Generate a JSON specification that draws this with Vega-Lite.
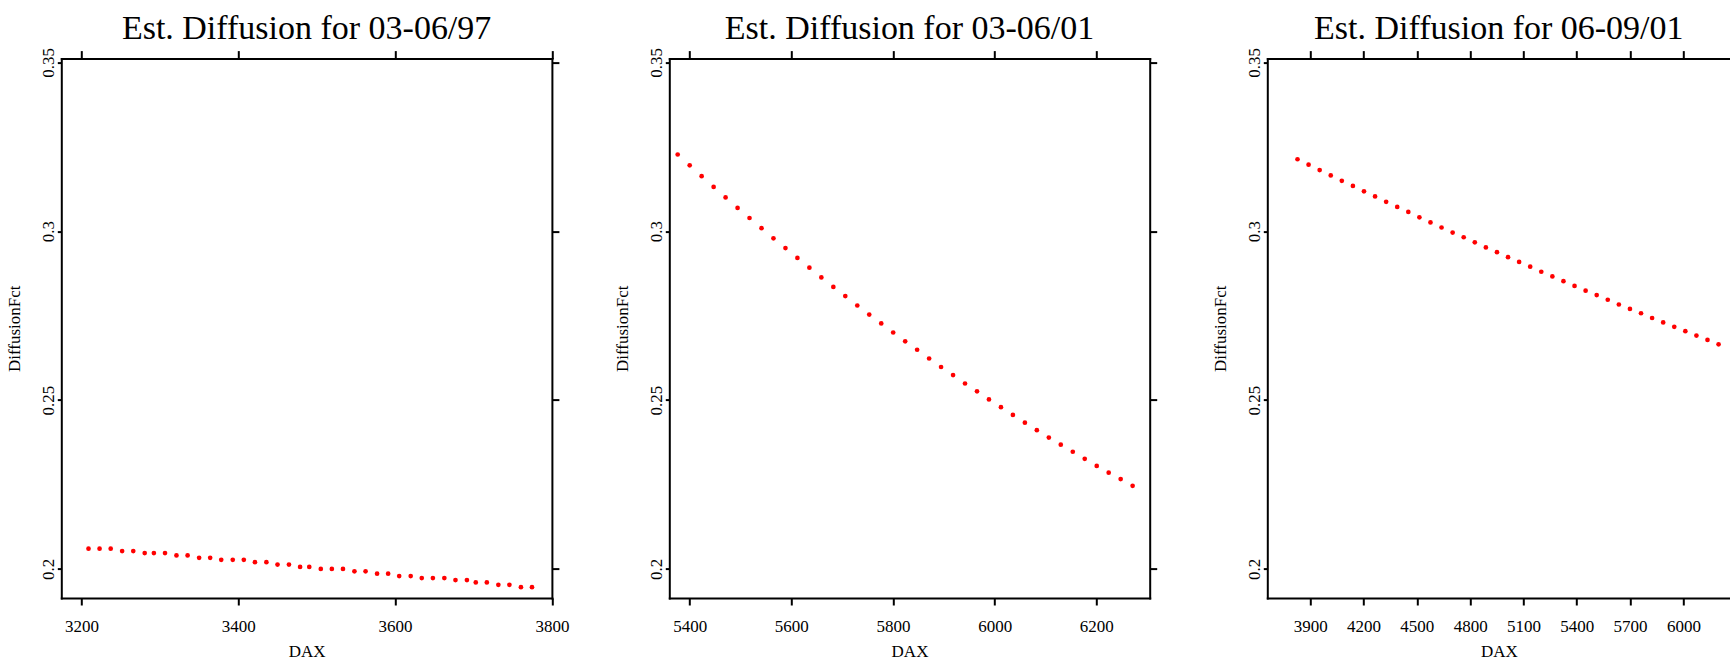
{
  "$schema": "https://vega.github.io/schema/vega-lite/v6.json",
  "background": "white",
  "padding": {"left": 5.3, "top": 11.6, "right": 0, "bottom": 0},
  "autosize": {"type": "pad"},
  "spacing": 117,
  "bounds": "flush",
  "config": {
    "font": "Liberation Serif",
    "view": {"stroke": null},
    "title": {"fontSize": 34, "fontWeight": "normal", "font": "Liberation Serif", "color": "black", "baseline": "alphabetic", "offset": 1, "anchor": "middle"},
    "axis": {"grid": false, "domainColor": "black", "domainWidth": 2, "domainCap": "square", "tickColor": "black", "tickWidth": 2, "labelColor": "black", "titleColor": "black", "labelFont": "Liberation Serif", "titleFont": "Liberation Serif", "labelFontSize": 17, "titleFontSize": 17, "titleFontWeight": "normal", "labelFlush": false, "labelOverlap": false}
  },
  "datasets": {
    "p1": [
      {"DAX": 3208.9, "DiffusionFct": 0.2060}, {"DAX": 3223.0, "DiffusionFct": 0.2060}, {"DAX": 3237.2, "DiffusionFct": 0.2060},
      {"DAX": 3251.8, "DiffusionFct": 0.2053}, {"DAX": 3266.0, "DiffusionFct": 0.2053},
      {"DAX": 3280.6, "DiffusionFct": 0.2047}, {"DAX": 3292.3, "DiffusionFct": 0.2047}, {"DAX": 3306.5, "DiffusionFct": 0.2047},
      {"DAX": 3321.1, "DiffusionFct": 0.2040}, {"DAX": 3335.3, "DiffusionFct": 0.2040},
      {"DAX": 3350.0, "DiffusionFct": 0.2033}, {"DAX": 3364.1, "DiffusionFct": 0.2033},
      {"DAX": 3378.2, "DiffusionFct": 0.2027}, {"DAX": 3392.9, "DiffusionFct": 0.2027}, {"DAX": 3407.0, "DiffusionFct": 0.2027},
      {"DAX": 3421.2, "DiffusionFct": 0.2020}, {"DAX": 3435.8, "DiffusionFct": 0.2020},
      {"DAX": 3450.0, "DiffusionFct": 0.2013}, {"DAX": 3464.6, "DiffusionFct": 0.2013},
      {"DAX": 3478.8, "DiffusionFct": 0.2006}, {"DAX": 3490.5, "DiffusionFct": 0.2006},
      {"DAX": 3505.2, "DiffusionFct": 0.2000}, {"DAX": 3519.3, "DiffusionFct": 0.2000}, {"DAX": 3533.5, "DiffusionFct": 0.2000},
      {"DAX": 3548.1, "DiffusionFct": 0.1993}, {"DAX": 3562.3, "DiffusionFct": 0.1993},
      {"DAX": 3577.0, "DiffusionFct": 0.1986}, {"DAX": 3591.1, "DiffusionFct": 0.1986},
      {"DAX": 3605.2, "DiffusionFct": 0.1979}, {"DAX": 3619.9, "DiffusionFct": 0.1979},
      {"DAX": 3634.0, "DiffusionFct": 0.1973}, {"DAX": 3648.2, "DiffusionFct": 0.1973}, {"DAX": 3662.8, "DiffusionFct": 0.1973},
      {"DAX": 3677.0, "DiffusionFct": 0.1967}, {"DAX": 3691.6, "DiffusionFct": 0.1967},
      {"DAX": 3702.9, "DiffusionFct": 0.1960}, {"DAX": 3717.0, "DiffusionFct": 0.1960},
      {"DAX": 3731.7, "DiffusionFct": 0.1953}, {"DAX": 3745.8, "DiffusionFct": 0.1953},
      {"DAX": 3760.5, "DiffusionFct": 0.1946}, {"DAX": 3774.6, "DiffusionFct": 0.1946}
    ],
    "p2": [
      {"DAX": 5376.5, "DiffusionFct": 0.3227}, {"DAX": 5400.1, "DiffusionFct": 0.3195}, {"DAX": 5423.6, "DiffusionFct": 0.3163},
      {"DAX": 5447.2, "DiffusionFct": 0.3131}, {"DAX": 5470.7, "DiffusionFct": 0.3100}, {"DAX": 5494.3, "DiffusionFct": 0.3069},
      {"DAX": 5517.8, "DiffusionFct": 0.3039}, {"DAX": 5541.4, "DiffusionFct": 0.3009}, {"DAX": 5564.9, "DiffusionFct": 0.2979},
      {"DAX": 5588.5, "DiffusionFct": 0.2950}, {"DAX": 5612.0, "DiffusionFct": 0.2921}, {"DAX": 5635.6, "DiffusionFct": 0.2892},
      {"DAX": 5659.1, "DiffusionFct": 0.2863}, {"DAX": 5682.7, "DiffusionFct": 0.2835}, {"DAX": 5706.2, "DiffusionFct": 0.2808},
      {"DAX": 5729.8, "DiffusionFct": 0.2780}, {"DAX": 5753.3, "DiffusionFct": 0.2753}, {"DAX": 5776.9, "DiffusionFct": 0.2727},
      {"DAX": 5800.4, "DiffusionFct": 0.2700}, {"DAX": 5824.0, "DiffusionFct": 0.2674}, {"DAX": 5847.5, "DiffusionFct": 0.2649},
      {"DAX": 5871.1, "DiffusionFct": 0.2623}, {"DAX": 5894.6, "DiffusionFct": 0.2598}, {"DAX": 5918.2, "DiffusionFct": 0.2574},
      {"DAX": 5941.7, "DiffusionFct": 0.2549}, {"DAX": 5965.3, "DiffusionFct": 0.2526}, {"DAX": 5988.8, "DiffusionFct": 0.2502},
      {"DAX": 6012.4, "DiffusionFct": 0.2479}, {"DAX": 6035.9, "DiffusionFct": 0.2456}, {"DAX": 6059.5, "DiffusionFct": 0.2433},
      {"DAX": 6083.0, "DiffusionFct": 0.2411}, {"DAX": 6106.6, "DiffusionFct": 0.2389}, {"DAX": 6130.1, "DiffusionFct": 0.2368},
      {"DAX": 6153.7, "DiffusionFct": 0.2347}, {"DAX": 6177.2, "DiffusionFct": 0.2326}, {"DAX": 6200.8, "DiffusionFct": 0.2305},
      {"DAX": 6224.3, "DiffusionFct": 0.2285}, {"DAX": 6247.9, "DiffusionFct": 0.2266}, {"DAX": 6271.4, "DiffusionFct": 0.2246}
    ],
    "p3": [
      {"DAX": 3828.5, "DiffusionFct": 0.3213}, {"DAX": 3890.9, "DiffusionFct": 0.3197}, {"DAX": 3953.2, "DiffusionFct": 0.3181},
      {"DAX": 4015.6, "DiffusionFct": 0.3165}, {"DAX": 4077.9, "DiffusionFct": 0.3149}, {"DAX": 4140.3, "DiffusionFct": 0.3134},
      {"DAX": 4202.6, "DiffusionFct": 0.3118}, {"DAX": 4265.0, "DiffusionFct": 0.3103}, {"DAX": 4327.3, "DiffusionFct": 0.3087},
      {"DAX": 4389.7, "DiffusionFct": 0.3072}, {"DAX": 4452.1, "DiffusionFct": 0.3057}, {"DAX": 4514.4, "DiffusionFct": 0.3041},
      {"DAX": 4576.8, "DiffusionFct": 0.3026}, {"DAX": 4639.1, "DiffusionFct": 0.3011}, {"DAX": 4701.5, "DiffusionFct": 0.2996},
      {"DAX": 4763.8, "DiffusionFct": 0.2982}, {"DAX": 4826.2, "DiffusionFct": 0.2967}, {"DAX": 4888.5, "DiffusionFct": 0.2952},
      {"DAX": 4950.9, "DiffusionFct": 0.2938}, {"DAX": 5013.2, "DiffusionFct": 0.2923}, {"DAX": 5075.6, "DiffusionFct": 0.2909},
      {"DAX": 5138.0, "DiffusionFct": 0.2895}, {"DAX": 5200.3, "DiffusionFct": 0.2880}, {"DAX": 5262.7, "DiffusionFct": 0.2866},
      {"DAX": 5325.0, "DiffusionFct": 0.2852}, {"DAX": 5387.4, "DiffusionFct": 0.2838}, {"DAX": 5449.7, "DiffusionFct": 0.2824},
      {"DAX": 5512.1, "DiffusionFct": 0.2811}, {"DAX": 5574.4, "DiffusionFct": 0.2797}, {"DAX": 5636.8, "DiffusionFct": 0.2783},
      {"DAX": 5699.2, "DiffusionFct": 0.2770}, {"DAX": 5761.5, "DiffusionFct": 0.2757}, {"DAX": 5823.9, "DiffusionFct": 0.2743},
      {"DAX": 5886.2, "DiffusionFct": 0.2730}, {"DAX": 5948.6, "DiffusionFct": 0.2717}, {"DAX": 6010.9, "DiffusionFct": 0.2704},
      {"DAX": 6073.3, "DiffusionFct": 0.2691}, {"DAX": 6135.6, "DiffusionFct": 0.2678}, {"DAX": 6198.0, "DiffusionFct": 0.2665}
    ]
  },
  "hconcat": [
    {
      "title": "Est. Diffusion for 03-06/97",
      "width": 490.6, "height": 539.4,
      "data": {"name": "p1"},
      "resolve": {"axis": {"x": "independent", "y": "independent"}},
      "layer": [
        {
          "mark": {"type": "point", "filled": true, "color": "#ff0000", "size": 22, "opacity": 1, "strokeWidth": 0},
          "encoding": {
            "x": {"field": "DAX", "type": "quantitative", "scale": {"domain": [3174.2, 3800], "nice": false, "zero": false},
                  "axis": {"orient": "bottom", "values": [3200, 3400, 3600, 3800], "format": "d", "labelFont": "Liberation Serif", "tickSize": 7, "labelPadding": 14, "labelAngle": 0, "title": "DAX", "titlePadding": 9}},
            "y": {"field": "DiffusionFct", "type": "quantitative", "scale": {"domain": [0.1914, 0.3511], "nice": false, "zero": false},
                  "axis": {"orient": "left", "values": [0.2, 0.25, 0.3, 0.35], "format": "~g", "labelFont": "Liberation Serif", "tickSize": 4, "labelAngle": 270, "labelAlign": "center", "labelBaseline": "alphabetic", "labelPadding": 4, "title": "DiffusionFct", "titleFontSize": 17, "titlePadding": 16}}
          }
        },
        {
          "mark": {"type": "point", "opacity": 0},
          "encoding": {
            "x": {"field": "DAX", "type": "quantitative", "axis": {"orient": "top", "values": [3200, 3400, 3600, 3800], "tickSize": 8, "labels": false, "title": null}},
            "y": {"field": "DiffusionFct", "type": "quantitative", "axis": {"orient": "right", "values": [0.2, 0.25, 0.3, 0.35], "tickSize": 7, "labels": false, "title": null}}
          }
        }
      ]
    },
    {
      "title": "Est. Diffusion for 03-06/01",
      "width": 480.4, "height": 539.4,
      "data": {"name": "p2"},
      "resolve": {"axis": {"x": "independent", "y": "independent"}},
      "layer": [
        {
          "mark": {"type": "point", "filled": true, "color": "#ff0000", "size": 22, "opacity": 1, "strokeWidth": 0},
          "encoding": {
            "x": {"field": "DAX", "type": "quantitative", "scale": {"domain": [5360, 6305], "nice": false, "zero": false},
                  "axis": {"orient": "bottom", "values": [5400, 5600, 5800, 6000, 6200], "format": "d", "labelFont": "Liberation Serif", "tickSize": 7, "labelPadding": 14, "labelAngle": 0, "title": "DAX", "titlePadding": 9}},
            "y": {"field": "DiffusionFct", "type": "quantitative", "scale": {"domain": [0.1914, 0.3511], "nice": false, "zero": false},
                  "axis": {"orient": "left", "values": [0.2, 0.25, 0.3, 0.35], "format": "~g", "labelFont": "Liberation Serif", "tickSize": 4, "labelAngle": 270, "labelAlign": "center", "labelBaseline": "alphabetic", "labelPadding": 4, "title": "DiffusionFct", "titleFontSize": 17, "titlePadding": 16}}
          }
        },
        {
          "mark": {"type": "point", "opacity": 0},
          "encoding": {
            "x": {"field": "DAX", "type": "quantitative", "axis": {"orient": "top", "values": [5400, 5600, 5800, 6000, 6200], "tickSize": 8, "labels": false, "title": null}},
            "y": {"field": "DiffusionFct", "type": "quantitative", "axis": {"orient": "right", "values": [0.2, 0.25, 0.3, 0.35], "tickSize": 7, "labels": false, "title": null}}
          }
        }
      ]
    },
    {
      "title": "Est. Diffusion for 06-09/01",
      "width": 463, "height": 539.4,
      "data": {"name": "p3"},
      "resolve": {"axis": {"x": "independent"}},
      "layer": [
        {
          "mark": {"type": "point", "filled": true, "color": "#ff0000", "size": 22, "opacity": 1, "strokeWidth": 0},
          "encoding": {
            "x": {"field": "DAX", "type": "quantitative", "scale": {"domain": [3658.6, 6263.9], "nice": false, "zero": false},
                  "axis": {"orient": "bottom", "values": [3900, 4200, 4500, 4800, 5100, 5400, 5700, 6000], "format": "d", "labelFont": "Liberation Serif", "tickSize": 7, "labelPadding": 14, "labelAngle": 0, "title": "DAX", "titlePadding": 9}},
            "y": {"field": "DiffusionFct", "type": "quantitative", "scale": {"domain": [0.1914, 0.3511], "nice": false, "zero": false},
                  "axis": {"orient": "left", "values": [0.2, 0.25, 0.3, 0.35], "format": "~g", "labelFont": "Liberation Serif", "tickSize": 4, "labelAngle": 270, "labelAlign": "center", "labelBaseline": "alphabetic", "labelPadding": 4, "title": "DiffusionFct", "titleFontSize": 17, "titlePadding": 16}}
          }
        },
        {
          "mark": {"type": "point", "opacity": 0},
          "encoding": {
            "x": {"field": "DAX", "type": "quantitative", "axis": {"orient": "top", "values": [3900, 4200, 4500, 4800, 5100, 5400, 5700, 6000], "tickSize": 8, "labels": false, "title": null}}
          }
        }
      ]
    }
  ]
}
